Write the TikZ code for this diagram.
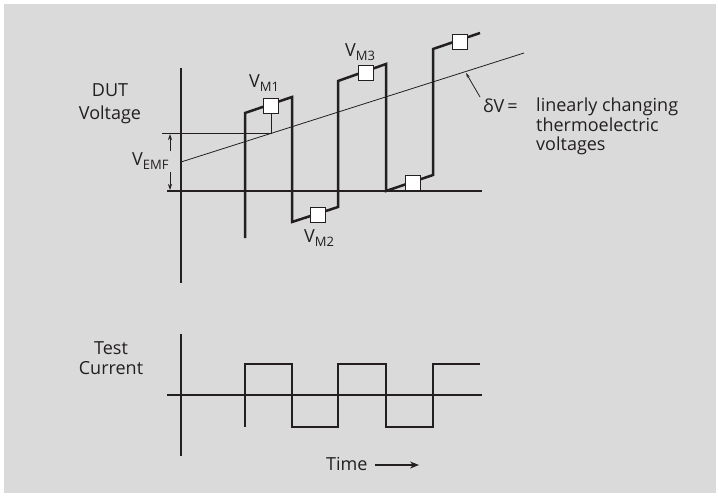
\documentclass[tikz,border=0pt]{standalone}
\usepackage{fontspec}
\setmainfont{Open Sans}
\usetikzlibrary{arrows.meta, positioning}
\definecolor{panelGrey}{HTML}{DADADA}
\definecolor{inkDark}{HTML}{231F20}
\newcommand{\vsub}[1]{V\raisebox{-4pt}{\fontsize{13}{13}\selectfont #1}}

\begin{document}
\begin{tikzpicture}[
    x=1pt, y=-1pt,
    >={Stealth[length=6pt,width=4pt]},
    axis/.style={draw=inkDark, line width=1.4pt},
    wave/.style={draw=inkDark, line width=2.5pt, line join=miter},
    thinline/.style={draw=inkDark, line width=0.8pt},
    sample/.style={draw=inkDark, fill=white, line width=1.2pt, minimum size=15pt, inner sep=0pt},
    lbl/.style={font=\fontsize{18}{20}\selectfont, inner sep=0pt, text=inkDark}
]
    \useasboundingbox (0,0) rectangle (719,496);
    \fill[white] (0,0) rectangle (719,496);
    \fill[panelGrey] (4,4) rectangle (716,493);

    % upper plot: DUT voltage
    \coordinate (vTop) at (181,68);
    \coordinate (vBot) at (181,283);
    \coordinate (zL) at (167,191);
    \coordinate (zR) at (482,191);
    \draw[axis] (vTop) -- (vBot);
    \draw[axis] (zL) -- (zR);

    \coordinate (driftA) at (181,162);
    \coordinate (driftB) at (524,53);
    \draw[thinline] (driftA) -- (driftB);

    \draw[wave] (245,238) -- (245,113) -- (292,97) -- (292,222) -- (338,207)
        -- (338,81) -- (386,64) -- (386,191) -- (433,175) -- (433,49) -- (480,33);

    \node[sample] (m1) at (271,106) {};
    \node[sample] (m2) at (318,215) {};
    \node[sample] (m3) at (366,73) {};
    \node[sample] (m4) at (413,183) {};
    \node[sample] (m5) at (460,42) {};

    % EMF reference level
    \coordinate (emfRef) at (271,133);
    \coordinate (emfL) at (162,133);
    \draw[thinline] (m1.south) -- (emfRef) -- (emfL);

    \node[lbl, anchor=base west] (vemf) at (132,165) {\vsub{EMF}};
    \coordinate (emfUpA) at (170,151);
    \coordinate (emfUpB) at (170,134);
    \coordinate (emfDnA) at (170,172);
    \coordinate (emfDnB) at (170,190);
    \draw[thinline, ->] (emfUpA) -- (emfUpB);
    \draw[thinline, ->] (emfDnA) -- (emfDnB);

    \node[lbl, anchor=base west] (vm1) at (249,87) {\vsub{M1}};
    \node[lbl, anchor=base west] (vm2) at (304,242) {\vsub{M2}};
    \node[lbl, anchor=base west] (vm3) at (345,56) {\vsub{M3}};

    \node[lbl, align=center, anchor=north, font=\fontsize{18}{23}\selectfont] (dut) at (110,83) {DUT\\Voltage};

    % drift annotation
    \node[lbl, anchor=base west] (dv) at (483,112) {δV\,=};
    \node[lbl, align=left, anchor=north west, font=\fontsize{18}{19.5}\selectfont] (dvText) at (536,98)
        {linearly changing\\thermoelectric\\voltages};
    \coordinate (ptrA) at (480,97);
    \coordinate (ptrB) at (466,73);
    \draw[thinline, ->, >={Stealth[length=5pt,width=3pt]}] (ptrA) -- (ptrB);

    % lower plot: test current
    \coordinate (iTop) at (181,334);
    \coordinate (iBot) at (181,456);
    \coordinate (iL) at (167,395);
    \coordinate (iR) at (482,395);
    \draw[axis] (iTop) -- (iBot);
    \draw[axis] (iL) -- (iR);

    \draw[wave] (245,427) -- (245,364) -- (292,364) -- (292,427) -- (338,427)
        -- (338,364) -- (386,364) -- (386,427) -- (433,427) -- (433,364) -- (480,364);

    \node[lbl, align=center, anchor=north, font=\fontsize{18}{20}\selectfont] (cur) at (111,341) {Test\\Current};

    \node[lbl, anchor=base west] (time) at (326,470) {Time};
    \coordinate (timeA) at (375,465);
    \coordinate (timeB) at (419,465);
    \draw[line width=1.2pt, draw=inkDark, -{Stealth[length=9pt,width=7pt]}] (timeA) -- (timeB);
\end{tikzpicture}
\end{document}
